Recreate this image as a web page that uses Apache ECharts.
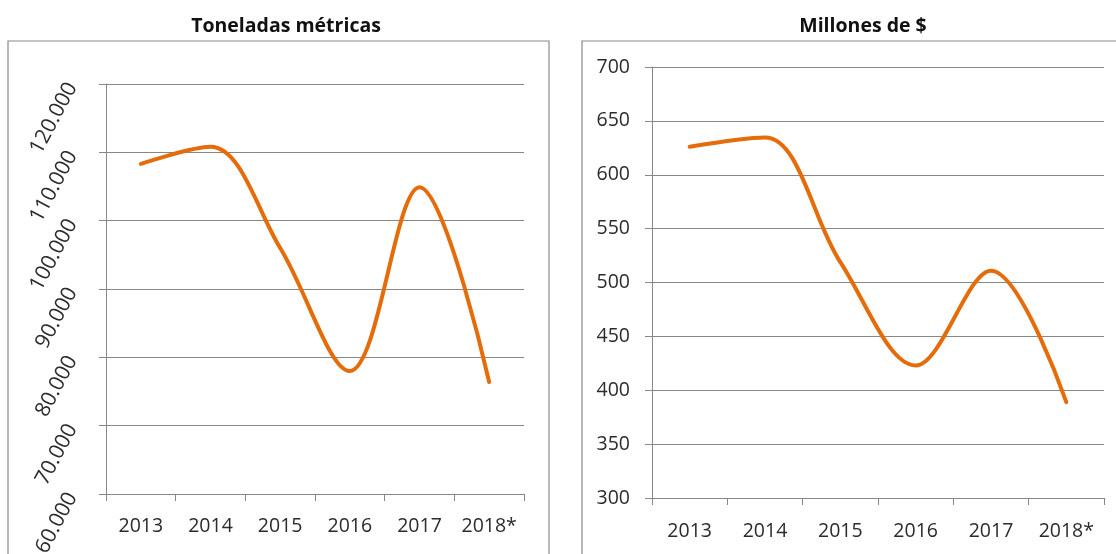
<!DOCTYPE html>
<html>
<head>
<meta charset="utf-8">
<script src="https://cdn.jsdelivr.net/npm/echarts@6/dist/echarts.min.js"></script>
<style>
  html, body { margin: 0; padding: 0; background: #ffffff; }
  #chart { width: 1116px; height: 554px; }
</style>
</head>
<body>
<div id="chart"></div>
<script>
// Years shown on both horizontal axes
const years = ['2013', '2014', '2015', '2016', '2017', '2018*'];

// Volume, metric tonnes
const tonnes = [108300, 110800, 96000, 78000, 104900, 76400];

// Value, millions of dollars
const millions = [626, 634.5, 519, 423, 511, 389];

// Panel titles
const titleTonnes = 'Toneladas métricas';
const titleMillions = 'Millones de $';

const FONT = '"Open Sans", "DejaVu Sans", sans-serif';
const LINE_COLOR = '#E46C0A';
const GRID_COLOR = '#878787';
const LABEL_COLOR = '#2b2b2b';
const SMOOTH = 0.35;

function thousands(v) {
  return String(Math.round(v)).replace(/\B(?=(\d{3})+(?!\d))/g, '.');
}

function xAxisFor(gridIndex, margin) {
  return {
    type: 'category',
    gridIndex: gridIndex,
    data: years,
    boundaryGap: true,
    axisLine: { lineStyle: { color: GRID_COLOR, width: 1 } },
    axisTick: { show: true, interval: 0, length: 7, lineStyle: { color: GRID_COLOR } },
    axisLabel: { interval: 0, color: LABEL_COLOR, fontFamily: FONT, fontSize: 19.5, margin: margin }
  };
}

const chart = echarts.init(document.getElementById('chart'), null, { renderer: 'canvas' });

chart.setOption({
  animation: false,
  backgroundColor: '#ffffff',
  title: [
    {
      text: titleTonnes,
      left: 281, top: 11, textAlign: 'center',
      textStyle: { fontFamily: FONT, fontWeight: 'bold', fontSize: 19.5, color: '#111111' }
    },
    {
      text: titleMillions,
      left: 858, top: 11, textAlign: 'center',
      textStyle: { fontFamily: FONT, fontWeight: 'bold', fontSize: 19.5, color: '#111111' }
    }
  ],
  graphic: [
    {
      type: 'rect', silent: true, z: -1,
      shape: { x: 8, y: 41, width: 541, height: 600 },
      style: { fill: 'none', stroke: '#8a8a8a', lineWidth: 1.2 }
    },
    {
      type: 'rect', silent: true, z: -1,
      shape: { x: 582, y: 41, width: 600, height: 600 },
      style: { fill: 'none', stroke: '#8a8a8a', lineWidth: 1.2 }
    }
  ],
  grid: [
    { left: 106, top: 84, width: 418, bottom: 60, containLabel: false, outerBoundsMode: 'none' },
    { left: 652, top: 67, width: 452, bottom: 56, containLabel: false, outerBoundsMode: 'none' }
  ],
  xAxis: [xAxisFor(0, 22), xAxisFor(1, 23)],
  yAxis: [
    {
      type: 'value', gridIndex: 0,
      min: 60000, max: 120000, interval: 10000,
      axisLine: { show: true, lineStyle: { color: GRID_COLOR } },
      axisTick: { show: true, length: 7, lineStyle: { color: GRID_COLOR } },
      splitLine: { show: true, lineStyle: { color: GRID_COLOR, width: 1 } },
      axisLabel: {
        color: LABEL_COLOR, fontFamily: FONT, fontSize: 21,
        rotate: 62, margin: 34,
        formatter: thousands
      }
    },
    {
      type: 'value', gridIndex: 1,
      min: 300, max: 700, interval: 50,
      axisLine: { show: true, lineStyle: { color: GRID_COLOR } },
      axisTick: { show: true, length: 7, lineStyle: { color: GRID_COLOR } },
      splitLine: { show: true, lineStyle: { color: GRID_COLOR, width: 1 } },
      axisLabel: { color: LABEL_COLOR, fontFamily: FONT, fontSize: 19.5, margin: 22 }
    }
  ],
  series: [
    {
      type: 'line', xAxisIndex: 0, yAxisIndex: 0,
      data: tonnes, smooth: SMOOTH, symbol: 'none',
      lineStyle: { color: LINE_COLOR, width: 4, cap: 'round' }
    },
    {
      type: 'line', xAxisIndex: 1, yAxisIndex: 1,
      data: millions, smooth: SMOOTH, symbol: 'none',
      lineStyle: { color: LINE_COLOR, width: 4, cap: 'round' }
    }
  ]
});
</script>
</body>
</html>
